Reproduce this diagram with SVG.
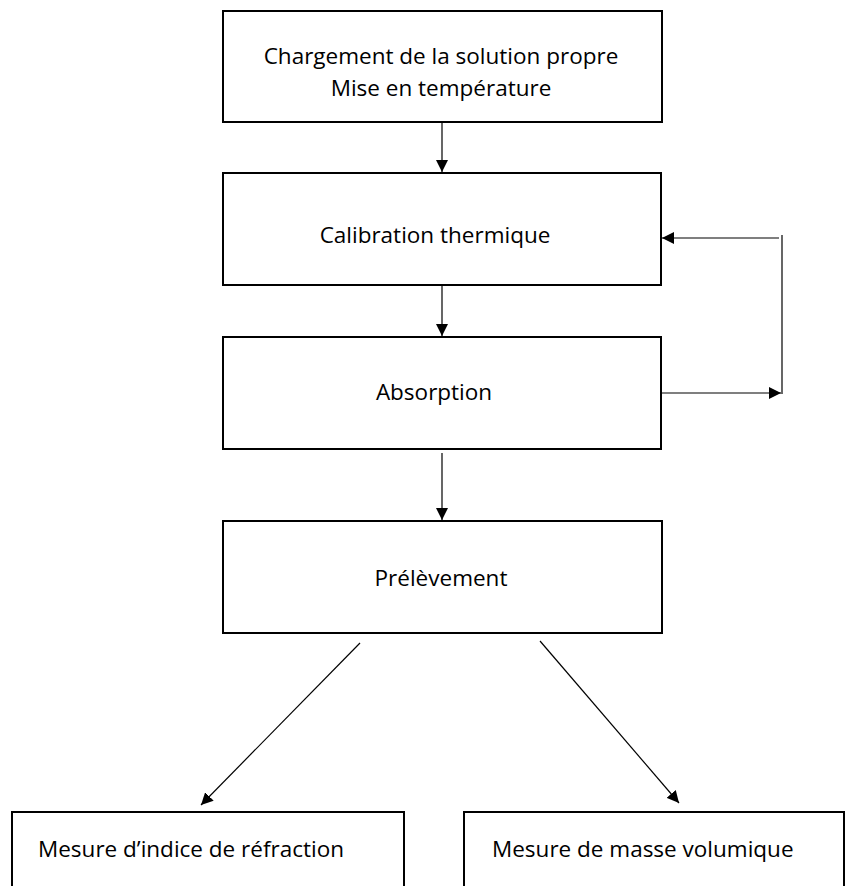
<svg xmlns="http://www.w3.org/2000/svg" width="846" height="886" viewBox="0 0 846 886">
<defs>
<style>
.box{fill:#fff;stroke:#000;stroke-width:2}
.lbl{font-family:"Open Sans","Liberation Sans",sans-serif;font-size:22.5px;fill:#000}
.c{text-anchor:middle}
.con{stroke:#000;stroke-width:1.2;fill:none}
</style>
<marker id="ah" viewBox="0 0 10 10" refX="10" refY="5" markerWidth="12" markerHeight="12" markerUnits="userSpaceOnUse" orient="auto">
<path d="M0,0 L10,5 L0,10 z" fill="#000"/>
</marker>
</defs>
<rect width="846" height="886" fill="#fff"/>
<g id="n1">
<rect class="box" x="223" y="11" width="439" height="111"/>
<text class="lbl c" x="441" y="64">Chargement de la solution propre</text>
<text class="lbl c" x="441" y="96">Mise en température</text>
</g>
<g id="n2">
<rect class="box" x="223" y="173" width="438" height="112"/>
<text class="lbl c" x="435" y="243">Calibration thermique</text>
</g>
<g id="n3">
<rect class="box" x="223" y="337" width="438" height="112"/>
<text class="lbl c" x="434" y="400">Absorption</text>
</g>
<g id="n4">
<rect class="box" x="223" y="521" width="439" height="112"/>
<text class="lbl c" x="441" y="586">Prélèvement</text>
</g>
<g id="n5">
<rect class="box" x="12" y="812" width="392" height="90"/>
<text class="lbl" x="38" y="857">Mesure d’indice de réfraction</text>
</g>
<g id="n6">
<rect class="box" x="464" y="812" width="380" height="90"/>
<text class="lbl" x="492" y="857">Mesure de masse volumique</text>
</g>
<g id="connectors">
<line class="con" x1="442" y1="122" x2="442" y2="172" marker-end="url(#ah)"/>
<line class="con" x1="442" y1="285" x2="442" y2="336" marker-end="url(#ah)"/>
<line class="con" x1="442" y1="453" x2="442" y2="520" marker-end="url(#ah)"/>
<line class="con" x1="662" y1="393" x2="781" y2="393" marker-end="url(#ah)"/>
<line class="con" x1="782" y1="235" x2="782" y2="394"/>
<line class="con" x1="779" y1="238" x2="662" y2="238" marker-end="url(#ah)"/>
<line class="con" x1="360" y1="643" x2="201" y2="805" marker-end="url(#ah)"/>
<line class="con" x1="540" y1="641" x2="679" y2="803" marker-end="url(#ah)"/>
</g>
</svg>
